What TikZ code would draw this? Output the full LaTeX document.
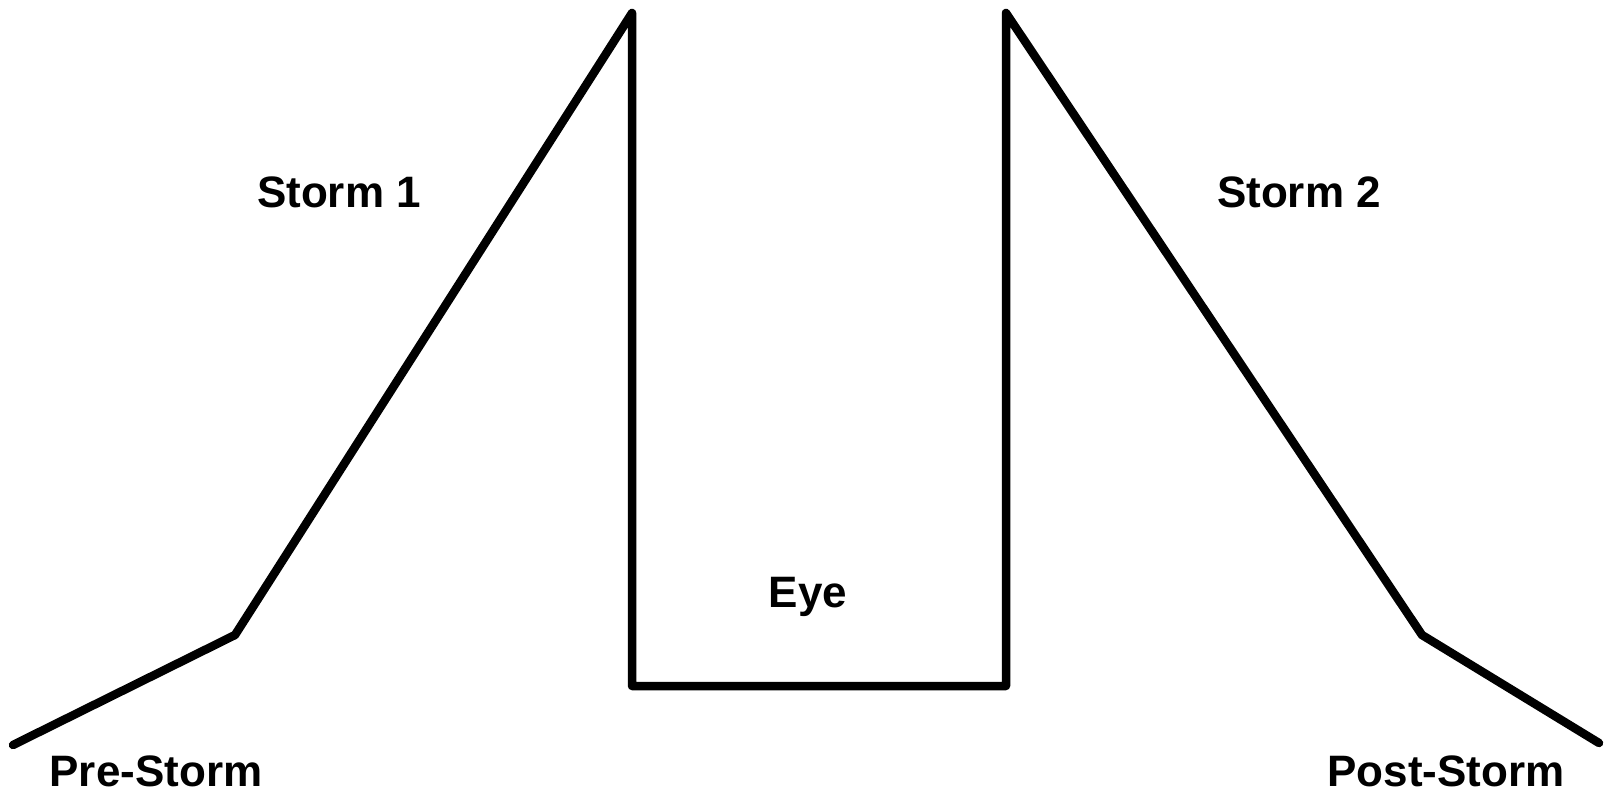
\documentclass[tikz,border=0pt]{standalone}
\usepackage{fontspec}
\setmainfont{Liberation Sans}
\usetikzlibrary{positioning}

\begin{document}
\begin{tikzpicture}[x=1pt, y=-1pt,
    curva/.style={line width=8.5pt, line join=round, line cap=round, color=black},
    etiq/.style={font=\fontsize{44}{50}\selectfont\bfseries, anchor=base, inner sep=0pt}]
    \useasboundingbox (0,0) rectangle (1604,795);
    % puntos de la curva
    \coordinate (pre)   at (13,745);
    \coordinate (k1)    at (235,635);
    \coordinate (top1)  at (632,13);
    \coordinate (base1) at (632,686);
    \coordinate (base2) at (1006,686);
    \coordinate (top2)  at (1006,13);
    \coordinate (k2)    at (1422,635);
    \coordinate (post)  at (1599,743);
    \draw[curva] (pre) -- (k1) -- (top1) -- (base1) -- (base2) -- (top2) -- (k2) -- (post);
    % etiquetas
    \node[etiq] (s1)   at (339,207) {Storm 1};
    \node[etiq] (s2)   at (1299,207) {Storm 2};
    \node[etiq] (eye)  at (808,607) {Eye};
    \node[etiq] (lpre) at (156,786) {Pre-Storm};
    \node[etiq] (lpost) at (1446,786) {Post-Storm};
\end{tikzpicture}
\end{document}
